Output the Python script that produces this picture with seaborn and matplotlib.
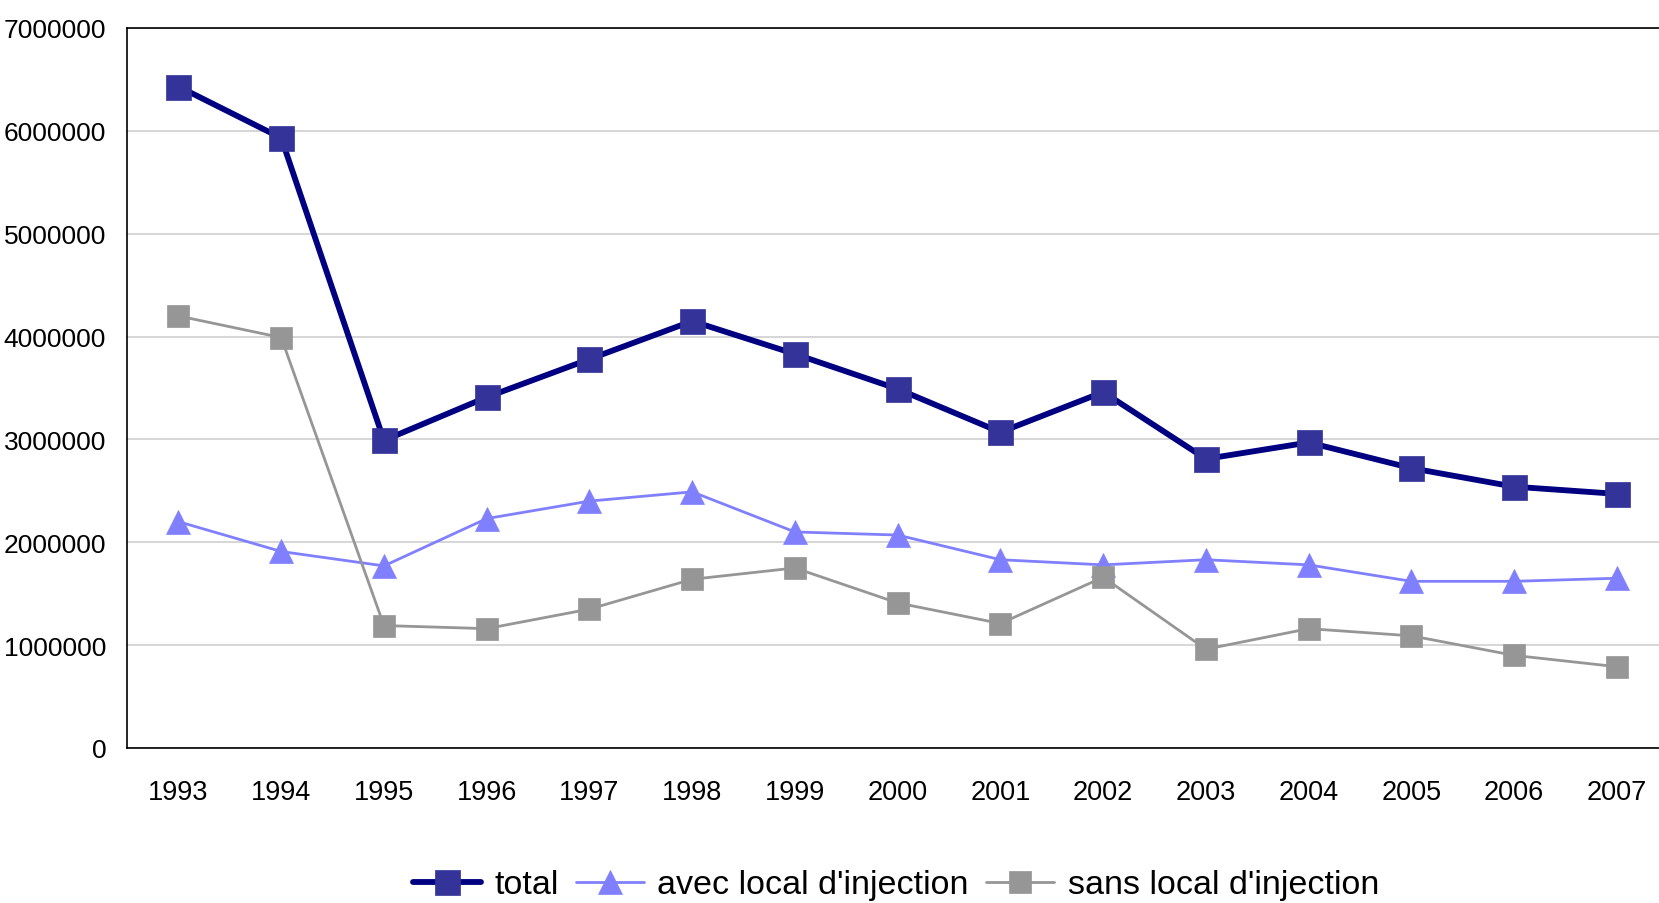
import pandas as pd
import matplotlib
matplotlib.use("Agg")
import matplotlib.pyplot as plt
import seaborn as sns
from matplotlib.ticker import FixedLocator

# data
years = ["1993", "1994", "1995", "1996", "1997", "1998", "1999", "2000",
         "2001", "2002", "2003", "2004", "2005", "2006", "2007"]
total = [6430000, 5930000, 2990000, 3410000, 3780000, 4150000, 3830000, 3490000,
         3070000, 3460000, 2810000, 2970000, 2720000, 2540000, 2470000]
avec = [2200000, 1910000, 1770000, 2230000, 2400000, 2490000, 2100000, 2070000,
        1830000, 1780000, 1830000, 1780000, 1620000, 1620000, 1650000]
sans = [4200000, 3990000, 1190000, 1160000, 1350000, 1640000, 1750000, 1410000,
        1210000, 1660000, 960000, 1160000, 1090000, 900000, 790000]

sns.set_style("white")
plt.rcParams['font.family'] = ['Liberation Sans', 'DejaVu Sans']
plt.rcParams['text.color'] = 'black'
plt.rcParams['xtick.color'] = 'black'
plt.rcParams['ytick.color'] = 'black'

pos = list(range(len(years)))
df = pd.DataFrame({"pos": pos * 3,
                   "value": total + avec + sans,
                   "serie": ["total"] * 15 + ["avec local d'injection"] * 15
                            + ["sans local d'injection"] * 15})

fig = plt.figure(figsize=(16.59, 9.04), dpi=100)
ax = fig.add_axes([0.0766, 0.1715, 0.929, 0.7965])

styles = {
    "total": dict(color="#000080", lw=4.2, marker="s", ms=18, mfc="#333399", mec="#333399"),
    "avec local d'injection": dict(color="#8080FF", lw=2.0, marker="^", ms=17, mfc="#8080FF", mec="#8080FF"),
    "sans local d'injection": dict(color="#969696", lw=2.0, marker="s", ms=15.5, mfc="#969696", mec="#969696"),
}
for name, st in styles.items():
    sub = df[df["serie"] == name]
    sns.lineplot(data=sub, x="pos", y="value", ax=ax, label=name,
                 color=st["color"], linewidth=st["lw"], marker=st["marker"],
                 markersize=st["ms"], markerfacecolor=st["mfc"],
                 markeredgecolor=st["mec"], markeredgewidth=0.5)

ax.set_xlim(-0.5, 14.5)
ax.set_ylim(0, 7000000)
ax.set_yticks(range(0, 7000001, 1000000))
ax.set_yticklabels([str(v) for v in range(0, 7000001, 1000000)])
ax.yaxis.grid(True, color="#d0d0d0", lw=1.2)
ax.set_axisbelow(True)
ax.set_xticks(pos)
ax.set_xticklabels(years)
ax.xaxis.set_minor_locator(FixedLocator([p - 0.5 for p in pos] + [14.5]))
ax.tick_params(axis="x", which="major", length=0, pad=22, labelsize=19.5)
ax.tick_params(axis="x", which="minor", length=8, width=1, color="black", direction="out")
ax.tick_params(axis="y", length=7, width=1, color="black", direction="out", pad=8, labelsize=19)
for s in ["left", "bottom", "top"]:
    ax.spines[s].set_color("black")
    ax.spines[s].set_linewidth(1.2)
ax.spines["right"].set_visible(False)
ax.set_xlabel("")
ax.set_ylabel("")

handles, labels = ax.get_legend_handles_labels()
ax.legend_.remove()
fig.legend(handles, labels, loc="center", bbox_to_anchor=(0.54, 0.02), ncol=3,
           frameon=False, fontsize=24.5, handlelength=2.0, handletextpad=0.4,
           columnspacing=0.5)

fig.savefig("out.png", dpi=100)
